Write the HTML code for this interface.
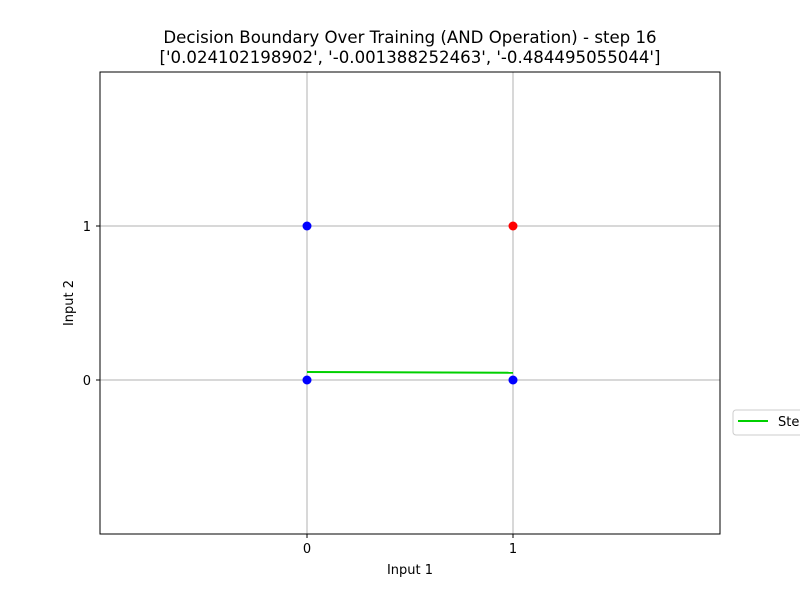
<!DOCTYPE html>
<html><head><meta charset="utf-8"><style>
body{margin:0;background:#fff;width:800px;height:600px;overflow:hidden}
svg text{font-family:"DejaVu Sans","Liberation Sans",sans-serif;fill:#000}
</style></head><body>
<svg id="chart" width="800" height="600">
<rect width="800" height="600" fill="#fff"/>
<text x="410" y="43" font-size="16.6" text-anchor="middle">Decision Boundary Over Training (AND Operation) - step 16</text>
<text x="410" y="63" font-size="16.6" text-anchor="middle">['0.024102198902', '-0.001388252463', '-0.484495055044']</text>
<g id="grid"></g>
<g id="marks"></g>
<rect x="100" y="72" width="620" height="462" fill="none" stroke="#000" stroke-width="1"/>
<g id="ticks"></g>
<text x="410" y="574" font-size="13" text-anchor="middle">Input 1</text>
<text transform="translate(73,303) rotate(-90)" font-size="13" text-anchor="middle">Input 2</text>
<g>
<rect x="733" y="410" width="80" height="25" rx="3" fill="#fff" stroke="#ccc"/>
<line x1="738" y1="421" x2="768" y2="421" stroke="#00d000" stroke-width="2"/>
<text x="778" y="426" font-size="13">Step 16</text>
</g>
</svg>
<script>
const xTicks=[0,1];
const yTicks=[0,1];
const pointX=[0,0,1,1];
const pointY=[0,1,0,1];
const pointClass=[0,0,0,1];
const lineX=[0,1];
const lineY=[0.052,0.047];
const X=v=>307+(v)*206, Y=v=>380-v*154;
const ns="http://www.w3.org/2000/svg";
function mk(t,a,p){const e=document.createElementNS(ns,t);for(const k in a)e.setAttribute(k,a[k]);p.appendChild(e);return e;}
const g=document.getElementById('grid'),tk=document.getElementById('ticks'),m=document.getElementById('marks');
xTicks.forEach(v=>{
const l=mk('line',{x1:X(v),x2:X(v),y1:72,y2:534,stroke:'#b0b0b0','stroke-width':1},g);


mk('line',{x1:X(v),x2:X(v),y1:534,y2:538,stroke:'#000'},tk);
const t=mk('text',{x:X(v),y:553,'font-size':13,'text-anchor':'middle'},tk);t.textContent=v;


});
yTicks.forEach(v=>{
const l=mk('line',{x1:100,x2:720,y1:Y(v),y2:Y(v),stroke:'#b0b0b0','stroke-width':1},g);


mk('line',{x1:96,x2:100,y1:Y(v),y2:Y(v),stroke:'#000'},tk);
const t=mk('text',{x:91,y:Y(v)+5,'font-size':13,'text-anchor':'end'},tk);t.textContent=v;


});
const ln=mk('polyline',{points:lineX.map((x,i)=>X(x)+','+Y(lineY[i])).join(' '),fill:'none',stroke:'#00d000','stroke-width':2},m);


pointX.forEach((x,i)=>{
const c=mk('circle',{cx:X(x),cy:Y(pointY[i]),r:4.5,fill:pointClass[i]?'#ff0000':'#0000ff'},m);


});
</script>
</body></html>
